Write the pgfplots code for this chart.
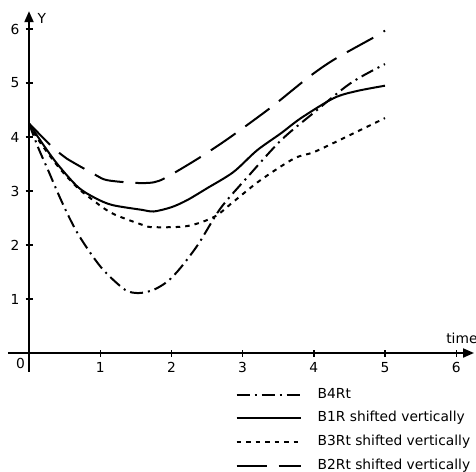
\documentclass[border=0pt]{standalone}
\usepackage{pgfplots}
\pgfplotsset{compat=1.18}
\usepackage{fontspec}
\setmainfont{DejaVu Sans}
\usetikzlibrary{arrows.meta}
\begin{document}
\begin{tikzpicture}
\useasboundingbox (-29bp,-119bp) rectangle (447bp,353bp);
\begin{axis}[
  anchor=origin,
  x=71.2bp, y=54bp,
  xmin=-0.295, xmax=6.25, ymin=-0.35, ymax=6.33,
  axis lines=middle,
  axis line style={-{Triangle[length=11bp,width=9bp]}, line width=2bp},
  xtick={1,2,3,4,5,6}, ytick={1,2,3,4,5,6},
  tick align=center, major tick length=7bp,
  tick style={line width=1.4bp, black},
  /pgf/number format/assume math mode=true,
  tick label style={font=\fontsize{13.8bp}{15bp}\selectfont},
  x tick label style={inner sep=0pt, yshift=-6bp},
  y tick label style={inner sep=0pt, xshift=-6bp},
  clip=false,
  legend style={draw=none, fill=none, at={(axis cs:2.9,-0.63)}, anchor=north west,
    font=\fontsize{13.8bp}{15bp}\selectfont, row sep=8.7bp, column sep=15bp,
    inner sep=0pt,
    nodes={inner sep=1bp, text height=10bp, text depth=3bp, anchor=west}},
  legend cell align=left,
  legend image code/.code={\draw[#1] (0bp,0bp) -- (64bp,0bp);},
]
\addplot[black, line width=2bp, smooth, dash pattern=on 13bp off 5bp on 2bp off 5bp] coordinates {
(0,4.25) (0.13,3.8) (0.27,3.38) (0.41,2.95) (0.55,2.55) (0.69,2.2) (0.89,1.8)
(1.07,1.5) (1.35,1.17) (1.54,1.11) (1.75,1.17) (1.95,1.33) (2.13,1.58) (2.38,2.02)
(2.69,2.68) (3.07,3.26) (3.54,3.94) (4.0,4.45) (4.52,5.0) (5.0,5.35)};
\addlegendentry{B4Rt}
\addplot[black, line width=2bp, smooth] coordinates {
(0,4.25) (0.22,3.82) (0.41,3.48) (0.69,3.07) (0.93,2.87) (1.17,2.74) (1.59,2.65)
(1.75,2.62) (2.0,2.7) (2.22,2.83) (2.5,3.05) (2.87,3.35) (3.2,3.75) (3.54,4.07)
(3.82,4.35) (4.28,4.72) (4.6,4.85) (5.0,4.95)};
\addlegendentry{B1R shifted vertically}
\addplot[black, line width=2bp, smooth, dash pattern=on 4.5bp off 5bp] coordinates {
(0,4.25) (0.13,3.95) (0.41,3.45) (0.69,3.05) (0.93,2.8) (1.03,2.7) (1.21,2.56)
(1.6,2.37) (1.75,2.33) (2.22,2.35) (2.6,2.52) (2.87,2.8) (3.25,3.2) (3.72,3.6)
(4.0,3.72) (4.42,3.98) (5.0,4.35)};
\addlegendentry{B3Rt shifted vertically}
\addplot[black, line width=2bp, smooth, dash pattern=on 30bp off 12bp] coordinates {
(0,4.25) (0.37,3.76) (0.53,3.6) (0.93,3.3) (1.1,3.2) (1.49,3.15) (1.75,3.16)
(1.94,3.26) (2.41,3.63) (2.83,4.0) (3.4,4.55) (3.92,5.1) (4.28,5.43) (4.85,5.85) (5.0,5.97)};
\addlegendentry{B2Rt shifted vertically}
\node[anchor=north east, inner sep=0pt, font=\fontsize{13.8bp}{15bp}\selectfont] at ([xshift=-4bp,yshift=-5bp]axis cs:0,0) {0};
\node[anchor=south, inner sep=0pt, font=\fontsize{13.8bp}{15bp}\selectfont] at (axis cs:6.08,0.17) {time};
\node[anchor=west, inner sep=0pt, font=\fontsize{13.8bp}{15bp}\selectfont] at (axis cs:0.12,6.2) {Y};
\end{axis}
\end{tikzpicture}
\end{document}
